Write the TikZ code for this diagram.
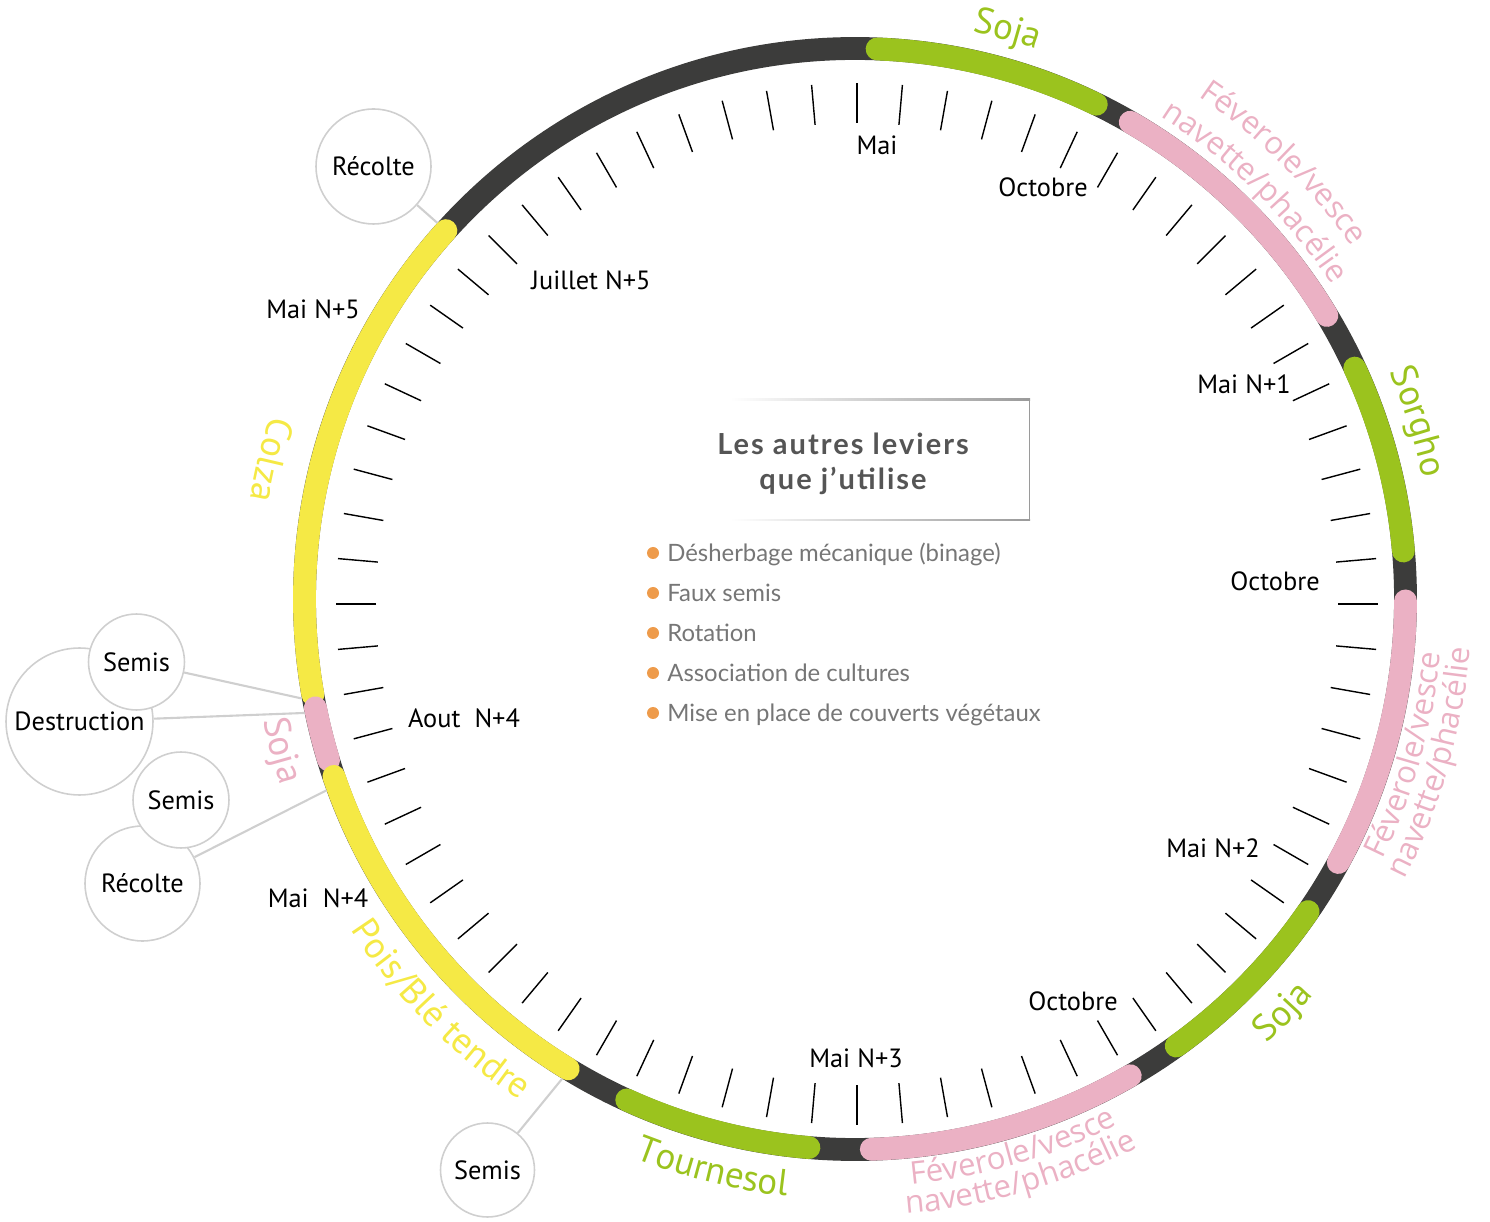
\documentclass[tikz,border=0pt]{standalone}
\usepackage{fontspec}
\setmainfont{PT Sans}
\newfontfamily\covfont{Open Sans}
\newfontfamily\leverfont{Lato}
\newfontfamily\titlefont[LetterSpace=7]{Lato}
\usetikzlibrary{decorations.text}

\definecolor{ringdark}{HTML}{3C3C3B}
\definecolor{soja}{HTML}{9BC31E}
\definecolor{couvert}{HTML}{EBB1C4}
\definecolor{colza}{HTML}{F5E945}
\definecolor{bubblegray}{HTML}{CFCFCF}
\definecolor{puce}{HTML}{EE9B4B}
\definecolor{titlegray}{HTML}{555555}
\definecolor{itemgray}{HTML}{767676}
\definecolor{boxgray}{HTML}{9A9A9A}

\newcommand\cropfont{\fontsize{21pt}{21pt}\selectfont}
\newcommand\covsize{\covfont\fontsize{17.8pt}{18pt}\selectfont}
\tikzset{croptext/.style 2 args={decorate, decoration={text along path, text align=center, text={|\cropfont\color{#1}|#2}}},
         covtext/.style={decorate, decoration={text along path, text align=center, text={|\covsize\color{couvert}|#1}}}}

\begin{document}
\begin{tikzpicture}[x=0.02cm, y=0.02cm]
        \tikzstyle{ring}=[line width=13pt, line cap=round]
        \tikzstyle{monthtick}=[line width=0.8pt, black]
        \tikzstyle{month}=[inner sep=0pt, font=\fontsize{15pt}{17pt}\selectfont]
        \tikzstyle{bubble}=[circle, draw=bubblegray, line width=0.9pt, fill=white, inner sep=0pt, font=\fontsize{15pt}{17pt}\selectfont]
        \tikzstyle{connector}=[draw=bubblegray, line width=1.2pt]
        \tikzstyle{bullet}=[circle, fill=puce, inner sep=0pt, minimum size=0.24cm]
        \tikzstyle{lever}=[anchor=base west, inner sep=0pt, text=itemgray, font=\leverfont\fontsize{13.6pt}{16pt}\selectfont]

        \useasboundingbox (0,0) rectangle (1490,1221);
        \coordinate (C) at (855,622);
        \coordinate (T) at (857,617);

% rotation wheel
        \draw[ring, ringdark, line cap=butt] (C) circle[radius=550.5];
        \foreach \col/\a/\b in {soja/87.7/64, couvert/60/31, soja/24.8/5, couvert/-0.2/-28.6,
                soja/-34.6/-54.3, couvert/-60/-88.3, soja/-94.8/-114.5,
                colza/138/190, couvert/191.4/197, colza/198.8/238.6}
            \draw[ring, \col] (C) ++(\a:550.5) arc[start angle=\a, end angle=\b, radius=550.5];
        \foreach \k in {0,...,71}
            \draw[monthtick] (T) ++(90-5*\k:481) -- ++(90-5*\k:40);

% crop names
        \path[croptext={soja}{Soja}] (C) ++(100:579) arc[start angle=100, end angle=50, radius=579];
        \path[covtext={Féverole/vesce}] (C) ++(75:609) arc[start angle=75, end angle=16, radius=609];
        \path[covtext={navette/phacélie}] (C) ++(75:571) arc[start angle=75, end angle=16, radius=571];
        \path[croptext={soja}{Sorgho}] (C) ++(40:581) arc[start angle=40, end angle=-5, radius=581];
        \path[covtext={Féverole/vesce}] (C) ++(-45.8:588) arc[start angle=-45.8, end angle=14.2, radius=588];
        \path[covtext={navette/phacélie}] (C) ++(-45.8:617) arc[start angle=-45.8, end angle=14.2, radius=617];
        \path[croptext={soja}{Soja}] (C) ++(-64:606) arc[start angle=-64, end angle=-24, radius=606];
        \path[covtext={Féverole/vesce}] (C) ++(-104:588) arc[start angle=-104, end angle=-44, radius=588];
        \path[covtext={navette/phacélie}] (C) ++(-104:617) arc[start angle=-104, end angle=-44, radius=617];
        \path[croptext={soja}{Tournesol}] (C) ++(-129:601) arc[start angle=-129, end angle=-79, radius=601];
        \path[croptext={colza}{Pois/Blé tendre}] (C) ++(-165.3:603) arc[start angle=-165.3, end angle=-105.3, radius=603];
        \path[croptext={couvert}{Soja}] (C) ++(174.8:604) arc[start angle=174.8, end angle=214.8, radius=604];
        \path[croptext={colza}{Colza}] (C) ++(146.6:613) arc[start angle=146.6, end angle=186.6, radius=613];

% months
        \node[month] (mai) at (877,1076) {Mai};
        \node[month] (oct1) at (1043,1034) {Octobre};
        \node[month] (mai1) at (1244,837) {Mai N+1};
        \node[month] (oct2) at (1275,640) {Octobre};
        \node[month] (mai2) at (1213,373) {Mai N+2};
        \node[month] (oct3) at (1073,220) {Octobre};
        \node[month] (mai3) at (856,163) {Mai N+3};
        \node[month] (aout4) at (464,503) {Aout~ N+4};
        \node[month] (mai4) at (318,323) {Mai~ N+4};
        \node[month] (mai5) at (313,912) {Mai N+5};
        \node[month] (juil5) at (591,941) {Juillet N+5};

% sowing, harvest
        \node[bubble, minimum size=2.3cm] (recolte1) at (373.5,1054.5) {Récolte};
        \node[bubble, minimum size=2.94cm] (destruction) at (79.5,499.5) {Destruction};
        \node[bubble, minimum size=1.92cm] (semis1) at (136.5,559) {Semis};
        \node[bubble, minimum size=2.3cm] (recolte2) at (142.5,337.5) {Récolte};
        \node[bubble, minimum size=1.92cm] (semis2) at (181,421) {Semis};
        \node[bubble, minimum size=1.88cm] (semis3) at (487.5,51) {Semis};
        \path (C) ++(138:562) coordinate (p1);
        \path (C) ++(190.2:562) coordinate (p2);
        \path (C) ++(191.7:562) coordinate (p3);
        \path (C) ++(199.9:562) coordinate (p4);
        \path (C) ++(238.6:562) coordinate (p5);
        \draw[connector] (recolte1) -- (p1);
        \draw[connector] (semis1) -- (p2);
        \draw[connector] (destruction) -- (p3);
        \draw[connector] (recolte2) -- (p4);
        \draw[connector] (semis3) -- (p5);

% levers box
        \shade[left color=white, right color=boxgray] (730,820.5) rectangle (1030,822);
        \shade[left color=white, right color=boxgray] (730,700) rectangle (1030,701.5);
        \draw[boxgray, line width=0.8pt] (1029.5,821.5) -- (1029.5,700.5);
        \node[text=titlegray, align=center, font=\titlefont\bfseries\fontsize{16.5pt}{19.8pt}\selectfont] (titre) at (843,757) {Les autres leviers\\que j’utilise};
        \foreach \y/\txt [count=\n] in {668/Désherbage mécanique (binage), 628/Faux semis, 588/Rotation,
                548/Association de cultures, 508/Mise en place de couverts végétaux} {
            \node[bullet] (puce\n) at (653,\y) {};
            \node[lever] (levier\n) at (667,\y-9) {\txt};
        }

    \end{tikzpicture}
\end{document}
